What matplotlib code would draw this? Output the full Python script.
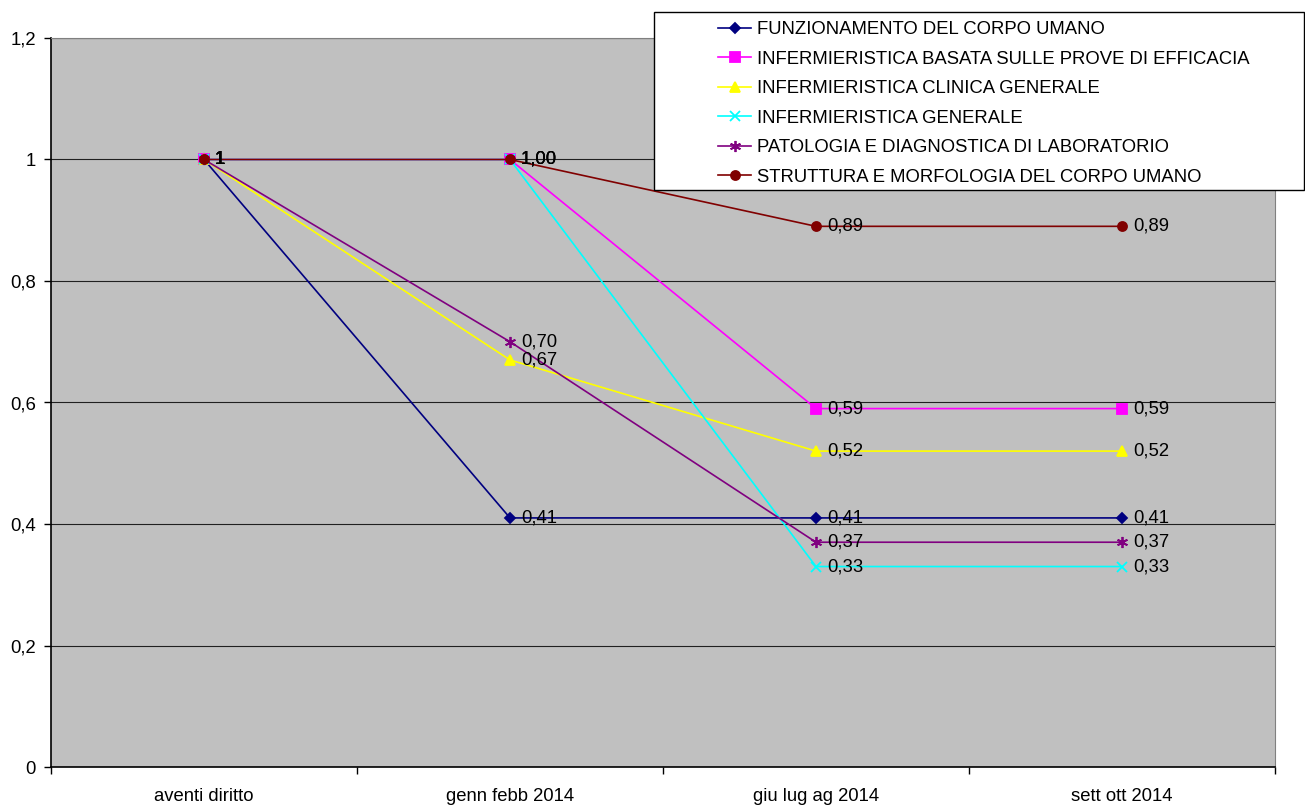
import matplotlib
matplotlib.use("Agg")
import matplotlib.pyplot as plt
from matplotlib.patches import Rectangle

plt.rcParams['font.family'] = ['Liberation Sans', 'DejaVu Sans']

categories = ["aventi diritto", "genn febb 2014", "giu lug ag 2014", "sett ott 2014"]

series_names = [
    "FUNZIONAMENTO DEL CORPO UMANO",
    "INFERMIERISTICA BASATA SULLE PROVE DI EFFICACIA",
    "INFERMIERISTICA CLINICA GENERALE",
    "INFERMIERISTICA GENERALE",
    "PATOLOGIA E DIAGNOSTICA DI LABORATORIO",
    "STRUTTURA E MORFOLOGIA DEL CORPO UMANO",
]
funzionamento = [1, 0.41, 0.41, 0.41]
basata = [1, 1.00, 0.59, 0.59]
clinica = [1, 0.67, 0.52, 0.52]
generale = [1, 1.00, 0.33, 0.33]
patologia = [1, 0.70, 0.37, 0.37]
struttura = [1, 1.00, 0.89, 0.89]
values = [funzionamento, basata, clinica, generale, patologia, struttura]

colors = ["#000080", "#FF00FF", "#FFFF00", "#00FFFF", "#800080", "#800000"]
markers = ["D", "s", "^", "x", (6, 2, 0), "o"]
msizes = [5, 6.5, 7, 7, 8, 6.5]
FS = 13.3

fig = plt.figure(figsize=(13.05, 8.05), dpi=100)
ax = fig.add_axes([51 / 1305, 38 / 805, (1275 - 51) / 1305, (767 - 38) / 805])
ax.set_facecolor("#C0C0C0")

x = list(range(len(categories)))
handles = []
for name, vals, c, m, ms in zip(series_names, values, colors, markers, msizes):
    h, = ax.plot(x, vals, color=c, marker=m, markersize=ms, linewidth=1.2,
                 markeredgewidth=1.3, label=name, zorder=3)
    handles.append(h)
    for i, v in enumerate(vals):
        lab = "1" if i == 0 else f"{v:.2f}".replace(".", ",")
        ax.annotate(lab, (i, v), xytext=(8, 0), textcoords="offset points",
                    va="center", ha="left", fontsize=FS, zorder=4)

ax.set_xlim(-0.5, 3.5)
ax.set_ylim(0, 1.2)
ax.set_yticks([0, 0.2, 0.4, 0.6, 0.8, 1.0, 1.2])
ax.set_yticklabels(["0", "0,2", "0,4", "0,6", "0,8", "1", "1,2"], fontsize=FS)
ax.set_xticks(x)
ax.set_xticklabels(categories, fontsize=FS)
ax.set_xticks([-0.5, 0.5, 1.5, 2.5, 3.5], minor=True)
ax.tick_params(axis="x", which="major", length=0, pad=15)
ax.tick_params(axis="x", which="minor", length=5, width=1)
ax.tick_params(axis="y", length=5, width=1, pad=6)
ax.yaxis.grid(True, color="#202020", linewidth=0.8)
ax.set_axisbelow(True)
for s in ["top", "right"]:
    ax.spines[s].set_color("#808080")
for s in ["left", "bottom"]:
    ax.spines[s].set_color("black")
    ax.spines[s].set_linewidth(1.2)

# legend box (Excel style, sticks out past the plot area)
box = Rectangle((654 / 1305, 1 - 190 / 805), (1304 - 654) / 1305, (190 - 12) / 805,
                transform=fig.transFigure, facecolor="white", edgecolor="black",
                linewidth=1.0, zorder=4)
fig.add_artist(box)
fig.legend(handles=handles, loc="upper left", bbox_to_anchor=(718 / 1305, 1 - 21 / 805),
           frameon=False, fontsize=FS, handlelength=1.8, handletextpad=0.3,
           labelspacing=0.68, borderpad=0, borderaxespad=0)

fig.savefig("out.png", dpi=100)
